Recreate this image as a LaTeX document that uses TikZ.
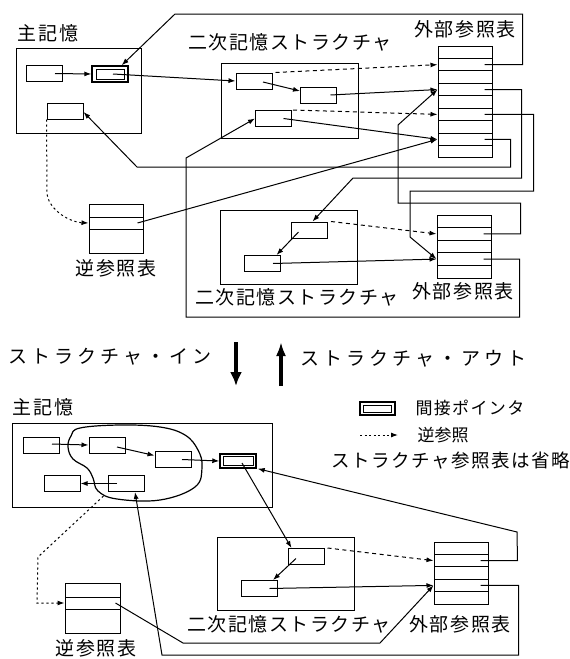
\documentclass[tikz,border=0pt]{standalone}
\usepackage{fontspec}
\newfontfamily\jp{Noto Sans CJK JP}
\newfontfamily\jpw[LetterSpace=21]{Noto Sans CJK JP}
\newfontfamily\jpm[LetterSpace=8]{Noto Sans CJK JP}
\usetikzlibrary{arrows.meta,calc}
\begin{document}
\begin{tikzpicture}[x=1pt,y=-1pt,line width=1pt,
 bx/.style={draw, minimum width=36pt, minimum height=16pt, inner sep=0pt},
 rw/.style={draw, minimum width=54pt, minimum height=12.4pt, inner sep=0pt},
 frm/.style={draw, inner sep=0pt},
 ar/.style={-{Latex[length=7pt,width=5pt]}},
 dsh/.style={ar, dash pattern=on 4pt off 3.5pt},
 dtd/.style={ar, dash pattern=on 2.2pt off 2.8pt},
 lb/.style={font=\jpm\fontsize{19}{19}\selectfont, inner sep=0pt},
 lbw/.style={font=\jpw\fontsize{19}{19}\selectfont, inner sep=0pt},
 lbs/.style={font=\jp\fontsize{17}{17}\selectfont, inner sep=0pt},
 big/.style={line width=3.5pt, -{Latex[length=14pt,width=12pt]}}]
\useasboundingbox (0,0) rectangle (570,659);

% ================= TOP DIAGRAM =================
\node[lb] (tMM) at (48,33) {主記憶};
\node[frm, minimum width=125pt, minimum height=85pt] (MM1) at (78.5,90.5) {};
\node[bx] (A) at (44.5,73.5) {};
\node[bx, line width=1.4pt] (P1o) at (110,74) {};
\node[draw, minimum width=28pt, minimum height=10pt, inner sep=0pt] (P1i) at (110,74) {};
\node[bx] (C) at (65,111) {};

\node[lb] (tS1) at (290,42) {二次記憶ストラクチャ};
\node[frm, minimum width=137pt, minimum height=75pt] (S1) at (289.5,100.5) {};
\node[bx] (B1) at (254,81) {};
\node[bx] (B2) at (318.5,95) {};
\node[bx] (B3) at (273.5,118.5) {};

\node[lb] (tT1) at (465,29) {外部参照表};
\foreach \i in {1,...,9} {
  \node[rw] (T1r\i) at (465,{46+12.44*(\i-0.5)}) {};
}

\node[frm, minimum width=137pt, minimum height=74pt] (S2) at (288.5,247) {};
\node[lb] (tS2) at (297,297) {二次記憶ストラクチャ};
\node[bx] (D1) at (309.5,230) {};
\node[bx] (D2) at (262,263.5) {};

\node[lb] (tT2) at (463,291) {外部参照表};
\foreach \i in {1,...,5} {
  \node[rw, minimum height=12.6pt] (T2r\i) at (464,{215+12.6*(\i-0.5)}) {};
}

\node[rw, minimum height=13pt] (R1r1) at (116,210.5) {};
\node[rw, minimum height=12pt] (R1r2) at (116,223) {};
\node[rw, minimum height=24pt] (R1r3) at (116,241) {};
\node[lb] (tR1) at (116,268) {逆参照表};

% connectors top
\draw[ar] ($(A.east)+(-8,0)$) -- (P1o.west);
\draw[ar] ($(P1o.center)+(3,0)$) -- (B1.west);
\draw[ar] ($(B1.center)+(9,1)$) -- ($(B2.west)+(0,-4)$);
\draw[ar] ($(B2.center)+(12,0)$) -- (T1r4.west);
\draw[ar] ($(B3.center)+(10,0)$) -- (T1r8.west);
\draw[dsh] ($(B1.north east)+(3,0)$) -- (T1r2.west);
\draw[dsh] ($(B3.north east)+(1,0)$) -- (T1r6.west);
\draw[ar] ($(T1r2.east)+(-8,0)$) -- ++(38,0) |- (175,14) -- ($(P1o.north east)+(-7,0)$);
\draw[ar] ($(T1r4.east)+(-8,0)$) -- ++(37,0) |- (353,178) -- ($(D1.north)+(3,0)$);
\draw[ar] ($(T1r6.east)+(-8,0)$) -- ++(49,0) |- (410,191) -- (410,237) -- (T2r4.west);
\draw[ar] ($(T1r8.east)+(-8,0)$) -- ++(26,0) |- (137,167) -- ($(C.east)+(0,1)$);
\draw[ar] ($(T2r2.east)+(-8,0)$) -- ++(37,0) |- (398,203) -- (398,125) -- (T1r4.west);
\draw[ar] ($(T2r4.east)+(-8,0)$) -- ++(36,0) |- (186,317) -- (186,158) -- (B3.west);
\draw[ar] ($(D1.center)+(-11,2)$) -- ($(D2.north east)+(-4,0)$);
\draw[ar] ($(D2.center)+(11,0)$) -- (T2r4.west);
\draw[dsh] ($(D1.north east)+(3,0)$) -- (T2r2.west);
\draw[dtd] (C.south west) -- (47,192) .. controls (47,208) and (68,222) .. (R1r2.west);
\draw[ar] ($(R1r2.east)+(-6,0)$) -- (T1r8.west);

% ================= MIDDLE =================
\node[lbw, anchor=west] (tIn) at (8,357) {ストラクチャ・イン};
\coordinate (dnA) at (236,342);
\coordinate (dnB) at (236,386);
\draw[big] (dnA) -- (dnB);
\coordinate (upA) at (281,386);
\coordinate (upB) at (281,342);
\draw[big, -{Latex[length=14pt,width=10pt]}] (upA) -- (upB);
\node[lbw, anchor=west] (tOut) at (300,359) {ストラクチャ・アウト};

% legend
\node[draw, line width=1.4pt, minimum width=35pt, minimum height=13pt, inner sep=0pt] (Lgo) at (377.5,408.5) {};
\node[draw, minimum width=28pt, minimum height=7pt, inner sep=0pt] (Lgi) at (377.5,408.5) {};
\node[lbs, anchor=west, font=\jpm\fontsize{17}{17}\selectfont] (tLg1) at (415,408) {間接ポインタ};
\coordinate (lgA) at (360,435);
\coordinate (lgB) at (398,435);
\draw[ar, dash pattern=on 2pt off 2.5pt] (lgA) -- (lgB);
\node[lbs, anchor=west] (tLg2) at (417,435) {逆参照};
\node[lbw, anchor=east, font=\jpm\fontsize{18.5}{18.5}\selectfont] (tLg3) at (570,461) {ストラクチャ参照表は省略};

% ================= BOTTOM DIAGRAM =================
\node[lb] (bMM) at (43,407) {主記憶};
\node[frm, minimum width=260pt, minimum height=84pt] (MM2) at (142,465) {};
\node[bx] (E1) at (41.5,445) {};
\node[bx] (E2) at (107,445) {};
\node[bx] (E3) at (173,459.5) {};
\node[bx, line width=1.4pt, minimum height=14pt] (P2o) at (238,461) {};
\node[draw, minimum width=30pt, minimum height=9pt, inner sep=0pt] (P2i) at (238,461) {};
\node[bx] (E4) at (62,483.5) {};
\node[bx] (E5) at (126,483.5) {};
\draw[line width=1.2pt] plot[smooth cycle, tension=0.65] coordinates {(80,428) (120,425) (160,427) (185,435) (198,450) (202,467) (195,487) (160,500) (117,499) (98,491) (93,478) (87,468) (73,459) (68,447) (71,436)};

\node[frm, minimum width=137pt, minimum height=73pt] (S3) at (285.5,573.5) {};
\node[lb] (bS3) at (289,624) {二次記憶ストラクチャ};
\node[bx] (F1) at (306,556.5) {};
\node[bx] (F2) at (259.5,588.5) {};

\foreach \i in {1,...,5} {
  \node[rw] (T3r\i) at (461,{542+12.4*(\i-0.5)}) {};
}
\node[lb] (bT3) at (460,624) {外部参照表};

\node[rw, minimum width=55pt, minimum height=14pt] (R2r1) at (92.5,590) {};
\node[rw, minimum width=55pt, minimum height=12pt] (R2r2) at (92.5,603) {};
\node[rw, minimum width=55pt, minimum height=24pt] (R2r3) at (92.5,621) {};
\node[lb] (bR2) at (96,648) {逆参照表};

% connectors bottom
\draw[ar] ($(E1.east)+(-8,-1)$) -- (E2.west);
\draw[ar] ($(E2.center)+(10,2)$) -- ($(E3.west)+(0,-4)$);
\draw[ar] ($(E3.center)+(9,0)$) -- (P2o.west);
\draw[ar] ($(E5.center)+(-9,0)$) -- (E4.east);
\draw[dtd] ($(E5.south west)+(-4,4)$) -- (38,557) -- (37,603) -- (R2r2.west);
\draw[ar] ($(R2r2.east)+(-5,0)$) -- (183,643) -- (380,643) -- (T3r4.west);
\draw[ar] ($(T3r4.east)+(-8,0)$) -- ++(38,0) |- (162,655) -- ($(E5.south)+(9,0)$);
\draw[ar] ($(T3r2.east)+(-8,0)$) -- ++(37,0) -- (517,532) -- ($(P2o.south east)+(1,0)$);
\draw[ar] ($(P2o.center)+(4,2)$) -- ($(F1.north west)+(4,0)$);
\draw[ar] ($(F1.center)+(-10,2)$) -- ($(F2.north east)+(-5,0)$);
\draw[ar] ($(F2.center)+(10,0)$) -- (T3r4.west);
\draw[dsh] ($(F1.north east)+(3,0)$) -- (T3r2.west);
\end{tikzpicture}
\end{document}
